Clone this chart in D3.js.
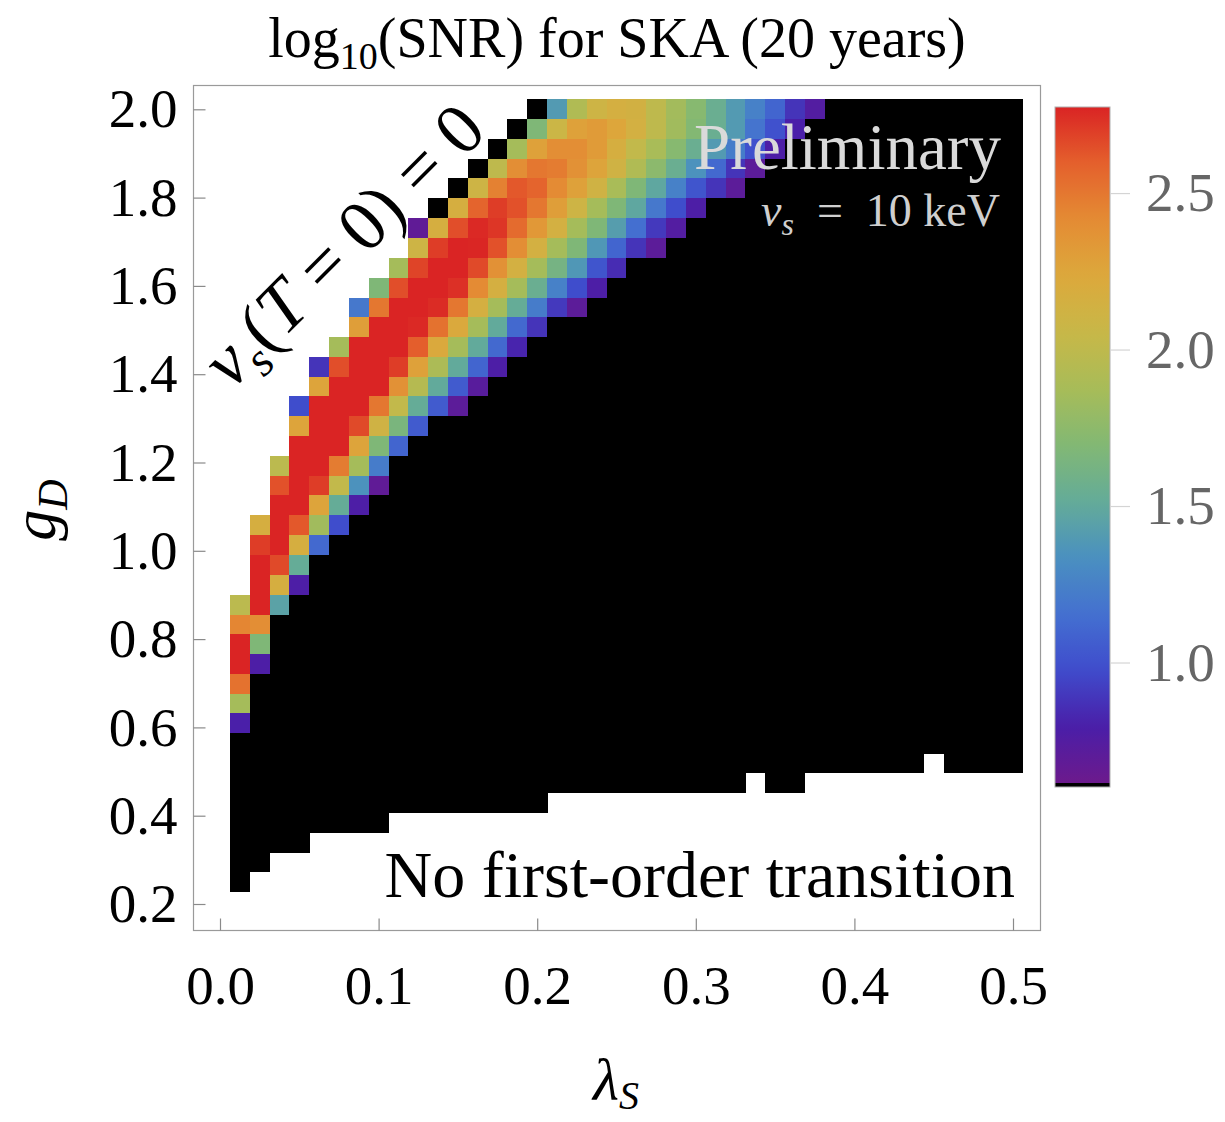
<!DOCTYPE html>
<html>
<head>
<meta charset="utf-8">
<script src="https://cdn.jsdelivr.net/npm/d3@7"></script>
<style>
  body { margin: 0; background: #fff; }
  text { font-family: "Liberation Serif", "Times New Roman", serif; }
</style>
</head>
<body>
<svg id="chart" width="1225" height="1122"></svg>
<script>
// Scan grid: quartic coupling lambda_S (columns) and dark gauge coupling g_D (rows, top to bottom)
const lambdaS = [0.0125, 0.025, 0.0375, 0.05, 0.0625, 0.075, 0.0875, 0.1, 0.1125, 0.125,
                 0.1375, 0.15, 0.1625, 0.175, 0.1875, 0.2, 0.2125, 0.225, 0.2375, 0.25,
                 0.2625, 0.275, 0.2875, 0.3, 0.3125, 0.325, 0.3375, 0.35, 0.3625, 0.375,
                 0.3875, 0.4, 0.4125, 0.425, 0.4375, 0.45, 0.4625, 0.475, 0.4875, 0.5];
const gD = [2.000, 1.955, 1.910, 1.865, 1.821, 1.776, 1.731, 1.686, 1.641, 1.596,
            1.551, 1.506, 1.462, 1.417, 1.372, 1.327, 1.282, 1.237, 1.192, 1.147,
            1.103, 1.058, 1.013, 0.968, 0.923, 0.878, 0.833, 0.788, 0.744, 0.699,
            0.654, 0.609, 0.564, 0.519, 0.474, 0.429, 0.385, 0.340, 0.295, 0.250];

// Per g_D row: index of the first lambda_S column where v_s(T=0) is non-zero
const rowStart = [15, 14, 13, 12, 11, 10, 9, 9, 8, 7, 6, 6, 5, 4, 4, 3, 3, 3, 2, 2,
                  2, 1, 1, 1, 1, 0, 0, 0, 0, 0, 0, 0, 0, 0, 0, 0, 0, 0, 0, 0];

// Per lambda_S column: smallest g_D that still gives a first-order transition
const gMinByCol = [0.250, 0.295, 0.340, 0.340, 0.385, 0.385, 0.385, 0.385, 0.429, 0.429,
                   0.429, 0.429, 0.429, 0.429, 0.429, 0.429, 0.474, 0.474, 0.474, 0.474,
                   0.474, 0.474, 0.474, 0.474, 0.474, 0.474, 0.519, 0.474, 0.474, 0.519,
                   0.519, 0.519, 0.519, 0.519, 0.519, 0.564, 0.519, 0.519, 0.519, 0.519];

// log10(SNR) per row, starting at rowStart; null and cells past the list are below the colour range
const snrRows = [
  [null, 1.40, 1.92, 2.10, 2.16, 2.14, 2.00, 1.85, 1.72, 1.55, 1.40, 1.25, 1.10, 0.88, 0.75],
  [null, 1.68, 2.08, 2.28, 2.32, 2.25, 2.15, 2.00, 1.84, 1.70, 1.55, 1.40, 1.18, 1.00, 0.80],
  [null, 1.86, 2.28, 2.40, 2.40, 2.32, 2.17, 2.02, 1.88, 1.72, 1.55, 1.40, 1.22, 1.00, 0.78],
  [null, 2.00, 2.40, 2.50, 2.48, 2.38, 2.26, 2.12, 1.92, 1.74, 1.55, 1.35, 1.12, 0.88, 0.70],
  [null, 2.10, 2.46, 2.62, 2.58, 2.42, 2.28, 2.12, 1.88, 1.68, 1.48, 1.25, 1.02, 0.88, 0.70],
  [null, 2.17, 2.58, 2.70, 2.64, 2.50, 2.30, 2.10, 1.86, 1.68, 1.48, 1.20, 0.98, 0.78],
  [0.68, 2.17, 2.65, 2.76, 2.72, 2.55, 2.34, 2.15, 1.86, 1.68, 1.42, 1.15, 0.90, 0.75],
  [2.10, 2.70, 2.78, 2.77, 2.64, 2.40, 2.15, 1.86, 1.68, 1.38, 1.10, 0.88, 0.70],
  [1.86, 2.68, 2.78, 2.78, 2.66, 2.38, 2.15, 1.86, 1.62, 1.38, 1.02, 0.85],
  [1.68, 2.65, 2.78, 2.78, 2.74, 2.42, 2.16, 1.86, 1.55, 1.25, 0.98, 0.78],
  [1.20, 2.50, 2.78, 2.78, 2.75, 2.50, 2.16, 1.86, 1.52, 1.22, 0.90, 0.70],
  [2.30, 2.78, 2.78, 2.76, 2.52, 2.22, 1.86, 1.50, 1.12, 0.88],
  [1.86, 2.78, 2.78, 2.78, 2.60, 2.22, 1.86, 1.50, 1.12, 0.82],
  [0.88, 2.65, 2.78, 2.78, 2.70, 2.28, 1.90, 1.50, 1.10, 0.78],
  [2.26, 2.78, 2.78, 2.78, 2.38, 1.95, 1.50, 1.05, 0.72],
  [0.98, 2.78, 2.78, 2.78, 2.50, 2.02, 1.52, 1.05, 0.70],
  [2.26, 2.78, 2.78, 2.66, 2.12, 1.65, 1.05],
  [2.78, 2.78, 2.78, 2.26, 1.68, 1.10],
  [1.98, 2.78, 2.78, 2.48, 1.86, 1.22],
  [2.64, 2.78, 2.70, 2.02, 1.35, 0.68],
  [2.78, 2.78, 2.26, 1.52, 0.78],
  [2.17, 2.78, 2.62, 1.84, 0.98],
  [2.70, 2.78, 2.17, 1.12],
  [2.78, 2.66, 1.52],
  [2.78, 2.17, 0.78],
  [1.98, 2.78, 1.45],
  [2.44, 2.40],
  [2.78, 1.68],
  [2.78, 0.78],
  [2.52],
  [1.86],
  [0.80],
  [], [], [], [], [], [], [], []
];

// Axis ticks
const xTicks = [0.0, 0.1, 0.2, 0.3, 0.4, 0.5];
const yTicks = [0.2, 0.4, 0.6, 0.8, 1.0, 1.2, 1.4, 1.6, 1.8, 2.0];
const barTicks = [1.0, 1.5, 2.0, 2.5];

// Colour range of the legend and the rainbow gradient stops
const colorRange = [0.615, 2.775];
const rainbowStops = ["#6c1a8c", "#4a1ea8", "#3f4ccc", "#4470d0", "#4a90c0", "#64ac98",
                      "#82b874", "#a8bc58", "#c8b848", "#dca83c", "#e48c34", "#e4602c", "#da2424"];

const svg = d3.select("#chart");
const frame = { left: 193, right: 1040, top: 85, bottom: 930 };

const x = d3.scaleLinear().domain([0, 0.5]).range([220, 1013]);
const y = d3.scaleLinear().domain([0.2, 2.0]).range([904, 109.3]);

const stopDomain = d3.range(rainbowStops.length).map(i =>
  colorRange[0] + (colorRange[1] - colorRange[0]) * i / (rainbowStops.length - 1));
const color = d3.scaleLinear().domain(stopDomain).range(rainbowStops)
  .interpolate(d3.interpolateRgb).clamp(true);

// Build the cell list
const dl = lambdaS[1] - lambdaS[0];
const dg = gD[0] - gD[1];
const cells = [];
gD.forEach((g, r) => {
  lambdaS.forEach((l, c) => {
    if (c < rowStart[r]) return;
    if (g < gMinByCol[c] - 1e-6) return;
    const v = snrRows[r][c - rowStart[r]];
    cells.push({ l, g, v: (v === undefined ? null : v) });
  });
});

svg.append("g")
  .attr("shape-rendering", "crispEdges")
  .selectAll("rect")
  .data(cells)
  .join("rect")
  .attr("x", d => x(d.l - dl / 2))
  .attr("y", d => y(d.g + dg / 2))
  .attr("width", d => x(d.l + dl / 2) - x(d.l - dl / 2) + 0.4)
  .attr("height", d => y(d.g - dg / 2) - y(d.g + dg / 2) + 0.4)
  .attr("fill", d => (d.v === null || d.v < colorRange[0]) ? "#000" : color(d.v));

// Frame
svg.append("rect")
  .attr("x", frame.left + 0.5).attr("y", frame.top + 0.5)
  .attr("width", frame.right - frame.left).attr("height", frame.bottom - frame.top)
  .attr("fill", "none").attr("stroke", "#9a9a9a").attr("stroke-width", 1.2);

// Axes
const yAxis = svg.append("g")
  .attr("transform", `translate(${frame.left + 0.5},0)`)
  .call(d3.axisLeft(y).tickValues(yTicks).tickFormat(d3.format(".1f"))
        .tickSize(-12).tickPadding(16));
const xAxis = svg.append("g")
  .attr("transform", `translate(0,${frame.bottom + 0.5})`)
  .call(d3.axisBottom(x).tickValues(xTicks).tickFormat(d3.format(".1f"))
        .tickSize(-12).tickPadding(34));
[yAxis, xAxis].forEach(a => {
  a.select(".domain").remove();
  a.selectAll(".tick line").attr("stroke", "#8a8a8a").attr("stroke-width", 1.2);
  a.selectAll(".tick text")
    .attr("font-family", "Liberation Serif, serif")
    .attr("font-size", 55).attr("fill", "#000");
});

// Axis titles
svg.append("text")
  .attr("transform", "translate(55,510) rotate(-90)")
  .attr("text-anchor", "middle")
  .attr("font-size", 62)
  .call(t => {
    t.append("tspan").attr("font-style", "italic").text("g");
    t.append("tspan").attr("font-style", "italic").attr("font-size", 42).attr("dy", 12).text("D");
  });
svg.append("text")
  .attr("x", 616).attr("y", 1100)
  .attr("text-anchor", "middle")
  .attr("font-size", 60)
  .call(t => {
    t.append("tspan").attr("font-style", "italic").text("λ");
    t.append("tspan").attr("font-style", "italic").attr("font-size", 40).attr("dy", 9).text("S");
  });

// Title
svg.append("text")
  .attr("x", 617).attr("y", 57)
  .attr("text-anchor", "middle")
  .attr("font-size", 56)
  .call(t => {
    t.append("tspan").text("log");
    t.append("tspan").attr("font-size", 38).attr("dy", 12).text("10");
    t.append("tspan").attr("dy", -12).text("(SNR) for SKA (20 years)");
  });

// Region annotations
svg.append("text")
  .attr("x", 1015).attr("y", 897)
  .attr("text-anchor", "end")
  .attr("font-size", 66)
  .text("No first-order transition");

svg.append("text")
  .attr("x", 1001).attr("y", 169)
  .attr("text-anchor", "end")
  .attr("font-size", 65)
  .attr("fill", "#dadada")
  .text("Preliminary");

svg.append("text")
  .attr("x", 1000).attr("y", 226)
  .attr("text-anchor", "end")
  .attr("font-size", 46)
  .attr("fill", "#cfcfcf")
  .call(t => {
    t.append("tspan").attr("font-style", "italic").text("v");
    t.append("tspan").attr("font-style", "italic").attr("font-size", 32).attr("dy", 9).text("s");
    t.append("tspan").attr("dy", -9).text("\u2002=\u200210 keV");
  });

// Boundary label along the upper edge of the band
svg.append("text")
  .attr("transform", "translate(360,262) rotate(-45)")
  .attr("text-anchor", "middle")
  .attr("font-size", 72)
  .call(t => {
    t.append("tspan").attr("font-style", "italic").text("v");
    t.append("tspan").attr("font-style", "italic").attr("font-size", 48).attr("dy", 14).text("s");
    t.append("tspan").attr("dy", -14).text("(");
    t.append("tspan").attr("font-style", "italic").text("T");
    t.append("tspan").text(" = 0) = 0");
  });

// Colour bar
const bar = { x: 1055, w: 55, top: 107, bottom: 783 };
const yBar = d3.scaleLinear().domain(colorRange).range([bar.bottom, bar.top]);
const defs = svg.append("defs");
const grad = defs.append("linearGradient").attr("id", "rainbow")
  .attr("x1", 0).attr("y1", 1).attr("x2", 0).attr("y2", 0);
grad.selectAll("stop")
  .data(d3.range(0, 1.0001, 0.02))
  .join("stop")
  .attr("offset", d => d)
  .attr("stop-color", d => color(colorRange[0] + d * (colorRange[1] - colorRange[0])));

svg.append("rect")
  .attr("x", bar.x).attr("y", bar.top)
  .attr("width", bar.w).attr("height", bar.bottom - bar.top)
  .attr("fill", "url(#rainbow)");
svg.append("rect")
  .attr("x", bar.x).attr("y", bar.bottom)
  .attr("width", bar.w).attr("height", 4)
  .attr("fill", "#000");
svg.append("rect")
  .attr("x", bar.x).attr("y", bar.top)
  .attr("width", bar.w).attr("height", bar.bottom + 4 - bar.top)
  .attr("fill", "none").attr("stroke", "#b0b0b0").attr("stroke-width", 1);

const barAxis = svg.append("g")
  .attr("transform", `translate(${bar.x + bar.w},0)`)
  .call(d3.axisRight(yBar).tickValues(barTicks).tickFormat(d3.format(".1f"))
        .tickSize(20).tickPadding(16));
barAxis.select(".domain").remove();
barAxis.selectAll(".tick line").attr("stroke", "#d4d4d4").attr("stroke-width", 1.2);
barAxis.selectAll(".tick text")
  .attr("font-family", "Liberation Serif, serif")
  .attr("font-size", 55).attr("fill", "#666");
</script>
</body>
</html>
